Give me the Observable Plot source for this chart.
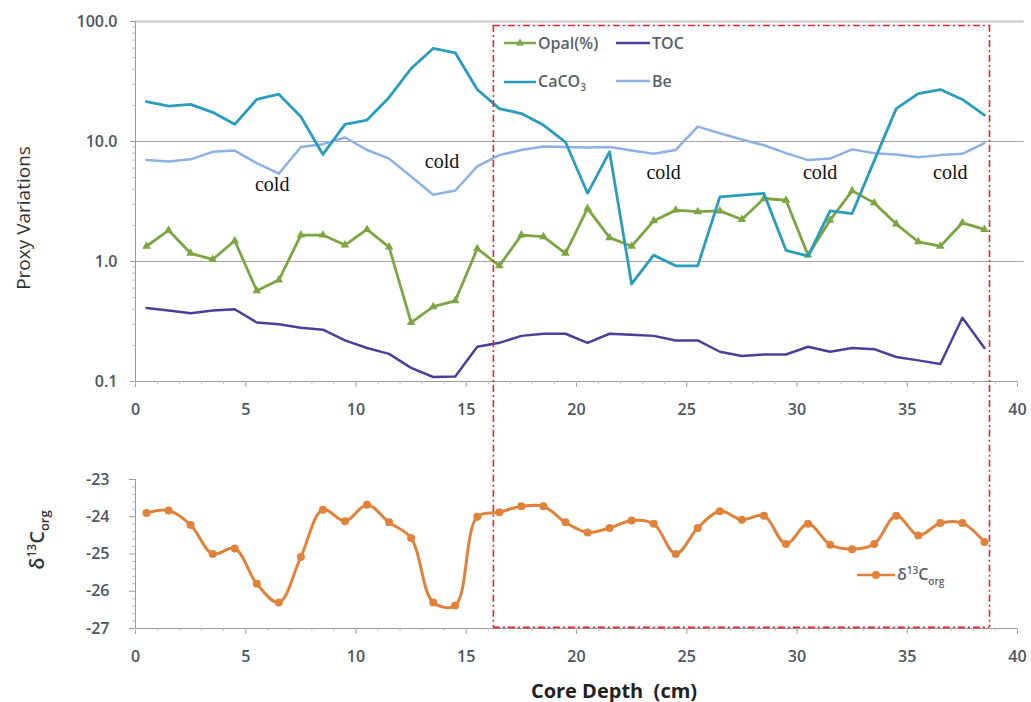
<!DOCTYPE html>
<html>
<head>
<meta charset="utf-8">
<script src="https://cdn.jsdelivr.net/npm/d3@7"></script>
<script src="https://cdn.jsdelivr.net/npm/@observablehq/plot@0.6"></script>
<style>
  html, body { margin: 0; padding: 0; background: #fff; }
  #chart { position: relative; width: 1031px; height: 702px; font-family: "Open Sans", sans-serif; }
  #chart svg { display: block; }
  .ov { position: absolute; white-space: nowrap; }
  .leg { font-size: 16px; font-weight: 600; color: #5a6068; display: flex; align-items: center; }
  .leg svg { margin-right: 2px; }
  .leg sub, .leg sup { font-size: 10px; }
</style>
</head>
<body>
<div id="chart"></div>
<script>
// ---- data ----
const depth = [0.5,1.5,2.5,3.5,4.5,5.5,6.5,7.5,8.5,9.5,10.5,11.5,12.5,13.5,14.5,15.5,16.5,17.5,18.5,19.5,
               20.5,21.5,22.5,23.5,24.5,25.5,26.5,27.5,28.5,29.5,30.5,31.5,32.5,33.5,34.5,35.5,36.5,37.5,38.5];
const opal  = [1.34,1.82,1.17,1.04,1.49,0.57,0.70,1.66,1.66,1.37,1.85,1.32,0.31,0.42,0.47,1.28,0.92,1.66,1.61,1.17,
               2.77,1.58,1.34,2.18,2.68,2.60,2.64,2.24,3.35,3.24,1.13,2.21,3.88,3.08,2.05,1.46,1.34,2.10,1.85];
const toc   = [0.41,0.39,0.37,0.39,0.40,0.31,0.30,0.28,0.27,0.22,0.19,0.17,0.13,0.109,0.11,0.195,0.21,0.24,0.25,0.25,
               0.21,0.25,0.245,0.24,0.22,0.22,0.177,0.163,0.168,0.168,0.195,0.177,0.19,0.186,0.16,0.15,0.14,0.34,0.19];
const caco3 = [21.5,19.7,20.4,17.5,13.9,22.4,24.8,16.1,7.8,13.9,15.1,23.3,40.6,59.6,54.8,27.1,18.8,17.1,13.7,9.9,
               3.7,8.2,0.65,1.13,0.92,0.92,3.46,3.57,3.69,1.24,1.11,2.64,2.51,6.9,18.8,25.1,27.1,22.4,16.6];
const be    = [7.0,6.8,7.1,8.2,8.4,6.6,5.4,9.0,9.5,10.8,8.5,7.2,5.1,3.6,3.9,6.2,7.7,8.5,9.1,9.0,
               8.9,9.0,8.4,7.9,8.5,13.3,11.7,10.4,9.3,8.0,7.0,7.2,8.6,8.0,7.8,7.4,7.7,7.9,9.7];
const d13c  = [-23.9,-23.83,-24.22,-25.0,-24.85,-25.8,-26.3,-25.08,-23.81,-24.12,-23.68,-24.15,-24.57,-26.3,-26.38,-24.0,
               -23.88,-23.72,-23.72,-24.15,-24.42,-24.3,-24.1,-24.19,-25.0,-24.3,-23.85,-24.08,-23.97,-24.73,-24.19,
               -24.75,-24.87,-24.73,-23.97,-24.5,-24.17,-24.17,-24.68];
const coldX = [6.2, 13.9, 23.95, 31.05, 36.95];
const coldY = [4.4, 6.8, 5.5, 5.5, 5.5];
const xTicks = [0,5,10,15,20,25,30,35,40];
const xMinor = [0,1,2,3,4,5,6,7,8,9,10,11,12,13,14,15,16,17,18,19,20,21,22,23,24,25,26,27,28,29,30,31,32,33,34,35,36,37,38,39,40];
const yTopTicks = [0.1, 1, 10, 100];
const yTopMinor = [0.2,0.3,0.4,0.5,0.6,0.7,0.8,0.9,2,3,4,5,6,7,8,9,20,30,40,50,60,70,80,90];
const yBotTicks = [-27,-26,-25,-24,-23];
const yBotMinor = [-26.8,-26.6,-26.4,-26.2,-25.8,-25.6,-25.4,-25.2,-24.8,-24.6,-24.4,-24.2,-23.8,-23.6,-23.4,-23.2];
const boxX = [16.23, 38.73];          // highlighted depth window
const boxTop = 92.6, boxBottom = -26.97;

(function () {
const C = {opal: "#7ea544", toc: "#4b3f9a", caco3: "#2a9cbc", be: "#8cb1e2", d13c: "#e0823a", red: "#e8232b", axis: "#9a9a9a"};
const dash = "7,3,2,3";
const W = 1031;
const txtStyle = {fontSize: "16px", fontFamily: "'Open Sans', sans-serif", fontWeight: 600, color: "#4b5661", overflow: "visible"};

const rows = depth.map((d, i) => ({d, opal: opal[i], toc: toc[i], caco3: caco3[i], be: be[i], d13c: d13c[i]}));

// ---- top panel ----
const topPlot = Plot.plot({
  width: W, height: 430,
  marginLeft: 135, marginRight: 14, marginTop: 21, marginBottom: 49,
  style: txtStyle,
  x: {domain: [0, 40], label: null},
  y: {type: "log", domain: [0.1, 100], label: null},
  marks: [
    Plot.ruleY([100], {x1: 0, x2: 40.3, stroke: "#cfcfcf", strokeWidth: 2.5}),
    Plot.ruleY([1, 10], {x1: 0, x2: 40.3, stroke: "#a3a3a3", strokeWidth: 1.2}),
    Plot.ruleX([0], {y1: 0.1, y2: 100, stroke: C.axis}),
    Plot.ruleY([0.1], {x1: 0, x2: 40, stroke: C.axis}),
    Plot.axisY(yTopTicks, {tickSize: 5, tickPadding: 13, tickFormat: d => d.toFixed(1), stroke: C.axis, label: null}),
    Plot.axisY(yTopMinor, {tickSize: 3, tickFormat: () => "", stroke: "#bbb", label: null}),
    Plot.axisX(xTicks, {tickSize: 6, tickPadding: 16, stroke: C.axis, label: null}),
    Plot.axisX(xMinor, {tickSize: 3, tickFormat: () => "", stroke: "#bbb", label: null}),
    Plot.line(rows, {x: "d", y: "toc", stroke: C.toc, strokeWidth: 2.5}),
    Plot.line(rows, {x: "d", y: "be", stroke: C.be, strokeWidth: 2.5}),
    Plot.line(rows, {x: "d", y: "opal", stroke: C.opal, strokeWidth: 2.8}),
    Plot.dot(rows, {x: "d", y: "opal", symbol: "triangle", r: 3.2, fill: C.opal}),
    Plot.line(rows, {x: "d", y: "caco3", stroke: C.caco3, strokeWidth: 2.8}),
    Plot.text(coldX.map((x, i) => ({x, y: coldY[i]})), {x: "x", y: "y", text: () => "cold", fontSize: 20, fontFamily: "'Liberation Serif', 'DejaVu Serif', serif", fontWeight: 400, fill: "#111"}),
    Plot.ruleX(boxX, {y1: boxTop, y2: 0.0391, stroke: C.red, strokeWidth: 1.6, strokeDasharray: dash}),
    Plot.ruleY([boxTop], {x1: boxX[0], x2: boxX[1], stroke: C.red, strokeWidth: 1.6, strokeDasharray: dash})
  ]
});

// ---- bottom panel ----
const bottomPlot = Plot.plot({
  width: W, height: 272,
  marginLeft: 135, marginRight: 14, marginTop: 49, marginBottom: 74,
  style: txtStyle,
  x: {domain: [0, 40], label: null},
  y: {domain: [-27, -23], label: null},
  marks: [
    Plot.ruleX([0], {y1: -23, y2: -27, stroke: C.axis}),
    Plot.ruleY([-27], {x1: 0, x2: 40, stroke: C.axis}),
    Plot.axisY(yBotTicks, {tickSize: 6, tickPadding: 20, tickFormat: d => String(d), stroke: C.axis, label: null}),
    Plot.axisY(yBotMinor, {tickSize: 3, tickFormat: () => "", stroke: "#bbb", label: null}),
    Plot.axisX(xTicks, {tickSize: 6, tickPadding: 16, stroke: C.axis, label: null}),
    Plot.axisX(xMinor, {tickSize: 3, tickFormat: () => "", stroke: "#bbb", label: null}),
    Plot.line(rows, {x: "d", y: "d13c", stroke: C.d13c, strokeWidth: 3, curve: "catmull-rom"}),
    Plot.dot(rows, {x: "d", y: "d13c", r: 4, fill: C.d13c}),
    Plot.ruleX(boxX, {y1: -21.68, y2: boxBottom, stroke: C.red, strokeWidth: 1.6, strokeDasharray: dash}),
    Plot.ruleY([boxBottom], {x1: boxX[0], x2: boxX[1], stroke: C.red, strokeWidth: 1.6, strokeDasharray: dash})
  ]
});

const chart = document.getElementById("chart");
chart.appendChild(topPlot);
chart.appendChild(bottomPlot);

// ---- overlays: legends & titles ----
function swatch(color, w, marker) {
  const m = marker === "tri" ? `<path d="M${w/2},1.5 L${w/2+4},8.5 L${w/2-4},8.5 Z" fill="${color}"/>`
          : marker === "dot" ? `<circle cx="${w/2}" cy="6" r="4" fill="${color}"/>` : "";
  return `<svg width="${w}" height="12"><line x1="0" x2="${w}" y1="6" y2="6" stroke="${color}" stroke-width="2.5"/>${m}</svg>`;
}
function addOv(html, left, topY, cls, extra) {
  const d = document.createElement("div");
  d.className = "ov " + (cls || "");
  d.style.left = left + "px"; d.style.top = topY + "px";
  if (extra) Object.assign(d.style, extra);
  d.innerHTML = html;
  chart.appendChild(d);
  return d;
}
addOv(swatch(C.opal, 32, "tri") + "<span>Opal(%)</span>", 504, 32, "leg");
addOv(swatch(C.toc, 34, null) + "<span>TOC</span>", 616, 32, "leg");
addOv(swatch(C.caco3, 32, null) + "<span>CaCO<sub>3</sub></span>", 504, 70, "leg");
addOv(swatch(C.be, 34, null) + "<span>Be</span>", 616, 70, "leg");
addOv(swatch(C.d13c, 38, "dot") + "<span>δ<sup>13</sup>C<sub>org</sub></span>", 857, 563, "leg");

addOv("Proxy Variations", 23, 218, "", {fontSize: "19px", color: "#333", transform: "translate(-50%,-50%) rotate(-90deg)"});
addOv("δ<sup style='font-size:12px'>13</sup>C<sub style='font-size:13px'>org</sub>", 38, 540, "", {fontSize: "20px", fontWeight: 600, color: "#333", transform: "translate(-50%,-50%) rotate(-90deg)"});
addOv("Core Depth&nbsp; (cm)", 614, 690, "", {fontSize: "20px", fontWeight: 700, color: "#222", transform: "translate(-50%,-50%)"});
})();
</script>
</body>
</html>
